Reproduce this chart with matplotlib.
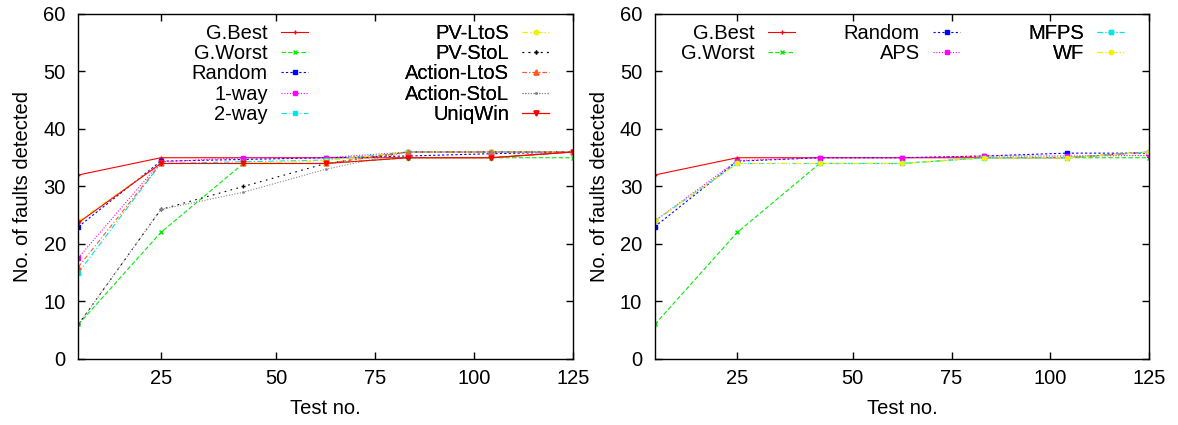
import matplotlib
matplotlib.use("Agg")
import matplotlib.pyplot as plt

plt.rcParams['font.family'] = ['Liberation Sans', 'DejaVu Sans']
plt.rcParams['font.size'] = 14.5

# test number at each sample (7 evenly spaced samples up to 125)
test_no = [0, 20.83, 41.67, 62.5, 83.33, 104.17, 125]

# left panel
g_best = [32, 35, 35, 35, 35, 35, 36]
g_worst = [6, 22, 34, 34, 35, 35, 35]
random_ = [23, 34.4, 34.7, 35, 35.3, 35.7, 36]
one_way = [17.6, 34.3, 35, 35, 36, 36, 36]
two_way = [15, 34, 34.3, 34.6, 36, 36, 36]
pv_ltos = [24, 34, 34, 34.5, 36, 36, 36]
pv_stol = [6, 26, 30, 34, 36, 36, 36]
act_ltos = [16, 34, 34, 34, 36, 36, 36]
act_stol = [6, 26, 29, 33, 36, 36, 36]
uniqwin = [23.7, 34, 34, 34, 35, 35, 36]

# right panel
r_g_best = [32, 35, 35, 35, 35, 35, 36]
r_g_worst = [6, 22, 34, 34, 35, 35, 35]
r_random = [23, 34.4, 35, 35, 35.3, 35.8, 35.8]
r_aps = [24, 34.5, 35, 35, 35.3, 35.3, 35.4]
r_mfps = [24, 34, 34, 34, 35, 35, 36]
r_wf = [24, 34, 34, 34, 35, 35, 36]

xtick_pos = [20.83, 50, 75, 100, 125]
xtick_lab = ['25', '50', '75', '100', '125']

# gnuplot-like styles
STY = {
    'G.Best':      dict(color='#ff0000', ls='-', marker='+', ms=2.5),
    'G.Worst':     dict(color='#00ee00', ls=(0, (4, 2)), marker='x', ms=2.5),
    'Random':      dict(color='#0000ff', ls=(0, (2, 2)), marker='s', ms=2.2),
    '1-way':       dict(color='#ff00ff', ls=(0, (1, 1.5)), marker='s', ms=3.5),
    '2-way':       dict(color='#00e5e5', ls=(0, (5, 2, 1, 2)), marker='s', ms=2.5),
    'PV-LtoS':     dict(color='#f0f000', ls=(0, (5, 2, 1, 2, 1, 2)), marker='o', ms=3),
    'PV-StoL':     dict(color='#000000', ls=(0, (1.5, 4)), marker='+', ms=2.5),
    'Action-LtoS': dict(color='#ff5a1e', ls=(0, (4, 2, 1, 2)), marker='^', ms=3.5),
    'Action-StoL': dict(color='#888888', ls=(0, (1, 1.5)), marker='.', ms=2),
    'UniqWin':     dict(color='#ff0000', ls='-', marker='v', ms=3.5),
    'APS':         dict(color='#ff00ff', ls=(0, (1, 1.5)), marker='s', ms=3.5),
    'MFPS':        dict(color='#00e5e5', ls=(0, (5, 2, 1, 2)), marker='s', ms=2.5),
    'WF':          dict(color='#f0f000', ls=(0, (5, 2, 1, 2, 1, 2)), marker='o', ms=3),
}


def draw(ax, name, ys):
    s = STY[name]
    line, = ax.plot(test_no, ys, color=s['color'], linestyle=s['ls'], lw=0.8,
                    marker=s['marker'], markersize=s['ms'], label=name)
    return line


def key_column(ax, lines, x, y):
    leg = ax.legend(handles=lines, loc='upper right', bbox_to_anchor=(x, y),
                    markerfirst=False, frameon=False, borderpad=0,
                    borderaxespad=0, handlelength=1.34, handletextpad=0.65,
                    labelspacing=0.07, fontsize=14.5)
    ax.add_artist(leg)


def style_axes(ax):
    ax.set_xlim(0, 125)
    ax.set_ylim(0, 60)
    ax.set_xticks(xtick_pos)
    ax.set_xticklabels(xtick_lab)
    ax.set_yticks(range(0, 61, 10))
    ax.tick_params(direction='in', length=5, width=1, top=True, right=True,
                   labelsize=14.5, pad=7)
    ax.tick_params(axis='y', pad=9)
    for sp in ax.spines.values():
        sp.set_linewidth(1.0)
    ax.set_xlabel('Test no.', labelpad=8)
    ax.set_ylabel('No. of faults detected', labelpad=8)


fig = plt.figure(figsize=(11.78, 4.25), dpi=100)
ax1 = fig.add_axes([0.0665, 0.1553, 0.4202, 0.8118])
ax2 = fig.add_axes([0.5558, 0.1553, 0.4199, 0.8118])

l1 = [draw(ax1, 'G.Best', g_best), draw(ax1, 'G.Worst', g_worst),
      draw(ax1, 'Random', random_), draw(ax1, '1-way', one_way),
      draw(ax1, '2-way', two_way)]
l2 = [draw(ax1, 'PV-LtoS', pv_ltos), draw(ax1, 'PV-StoL', pv_stol),
      draw(ax1, 'Action-LtoS', act_ltos), draw(ax1, 'Action-StoL', act_stol),
      draw(ax1, 'UniqWin', uniqwin)]
style_axes(ax1)
key_column(ax1, l1, 0.464, 0.972)
key_column(ax1, l2, 0.951, 0.972)

r1 = [draw(ax2, 'G.Best', r_g_best), draw(ax2, 'G.Worst', r_g_worst)]
r2 = [draw(ax2, 'Random', r_random), draw(ax2, 'APS', r_aps)]
r3 = [draw(ax2, 'MFPS', r_mfps), draw(ax2, 'WF', r_wf)]
style_axes(ax2)
key_column(ax2, r1, 0.2837, 0.972)
key_column(ax2, r2, 0.6173, 0.972)
key_column(ax2, r3, 0.9488, 0.972)

fig.savefig('out.png', dpi=100)
